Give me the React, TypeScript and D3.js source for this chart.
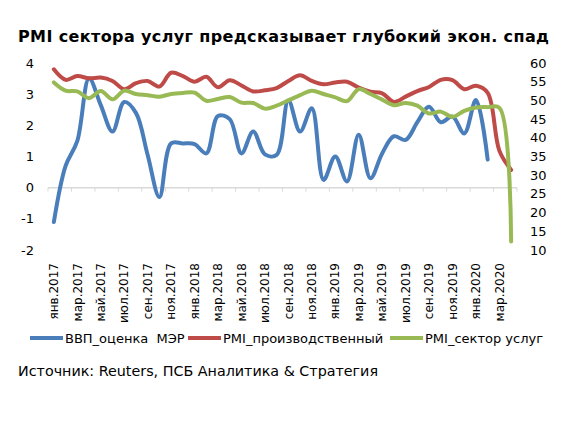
import React, { useEffect, useRef } from 'react';
import * as d3 from 'd3';

// monthly categories Jan 2017 .. Apr 2020
const monthNames = ['янв', 'фев', 'мар', 'апр', 'май', 'июн', 'июл', 'авг', 'сен', 'окт', 'ноя', 'дек'];
const months: string[] = [];
for (let y = 2017; y <= 2020; y++) {
  for (let m = 0; m < 12; m++) {
    if (y === 2020 && m > 3) break;
    months.push(`${monthNames[m]}.${y}`);
  }
}

// ВВП_оценка МЭР (left axis)
const gdp = [
  -1.1, 0.7, 1.5, 3.5, 2.65, 1.8, 2.75, 2.4, 1.05, -0.3,
  1.42, 1.42, 1.4, 1.1, 2.3, 2.2, 1.1, 1.8, 1.07, 1.05,
  2.8, 1.8, 2.55, 0.25, 1.0, 0.2, 1.7, 0.3, 1.1, 1.65,
  1.53, 2.1, 2.6, 2.1, 2.28, 1.74, 2.81, 0.9,
];

// PMI_производственный (right axis)
const pmiMfg = [
  58.3, 55.5, 56.5, 55.9, 56.1, 55.2, 53.0, 54.6, 55.2, 53.7,
  57.4, 56.5, 55.0, 56.3, 53.5, 55.4, 54.0, 52.4, 52.7, 53.3,
  55.2, 56.7, 55.2, 54.3, 54.8, 55.0, 53.4, 52.3, 51.9, 49.6,
  51.0, 52.5, 53.6, 55.5, 55.4, 53.0, 53.9, 52.0, 36.5, 31.4,
];

// PMI_сектор услуг (right axis)
const pmiServ = [
  54.8, 52.6, 52.4, 50.6, 52.5, 50.3, 52.6, 51.7, 51.4, 51.0,
  51.7, 52.0, 52.1, 49.9, 50.4, 50.9, 49.4, 49.3, 47.8, 48.6,
  50.0, 51.4, 52.6, 51.7, 50.8, 49.8, 53.0, 51.7, 50.2, 48.7,
  49.3, 48.6, 46.5, 47.0, 45.6, 47.2, 48.1, 48.2, 48.0, 12.3,
];

const leftTicks = [-2, -1, 0, 1, 2, 3, 4];
const rightTicks = [10, 15, 20, 25, 30, 35, 40, 45, 50, 55, 60];

const series = [
  { name: 'ВВП_оценка  МЭР', color: '#4A7EBB', values: gdp, axis: 'left' },
  { name: 'PMI_производственный', color: '#BE4B48', values: pmiMfg, axis: 'right' },
  { name: 'PMI_сектор услуг', color: '#98B954', values: pmiServ, axis: 'right' },
];

const FONT = 'Verdana, "DejaVu Sans", sans-serif';

const App: React.FC = () => {
  const svgRef = useRef<SVGSVGElement>(null);

  useEffect(() => {
    const svg = d3.select(svgRef.current);
    svg.selectAll('*').remove();

    const x = d3.scaleBand<string>().domain(months).range([48, 517]);
    const yL = d3.scaleLinear().domain([-2, 4]).range([250, 63]);
    const yR = d3.scaleLinear().domain([10, 60]).range([250, 63]);
    const cx = (m: string) => (x(m) || 0) + x.bandwidth() / 2;

    // title
    svg.append('text')
      .attr('x', 18)
      .attr('y', 42)
      .attr('textLength', 531)
      .attr('lengthAdjust', 'spacing')
      .style('font-family', FONT)
      .style('font-size', '16px')
      .style('font-weight', 'bold')
      .attr('fill', '#000')
      .text('PMI сектора услуг предсказывает глубокий экон. спад');

    // zero line with ticks
    svg.append('line')
      .attr('x1', 48).attr('x2', 517)
      .attr('y1', yL(0)).attr('y2', yL(0))
      .attr('stroke', '#D9D9D9').attr('stroke-width', 1.5);
    const tickIdx = d3.range(0, months.length + 1, 2);
    svg.append('g').selectAll('line')
      .data(tickIdx)
      .enter()
      .append('line')
      .attr('x1', i => (i < months.length ? x(months[i]) || 0 : 517))
      .attr('x2', i => (i < months.length ? x(months[i]) || 0 : 517))
      .attr('y1', yL(0))
      .attr('y2', yL(0) + 4)
      .attr('stroke', '#D9D9D9');

    // left axis labels
    svg.append('g').selectAll('text')
      .data(leftTicks)
      .enter()
      .append('text')
      .attr('x', 34)
      .attr('y', d => yL(d))
      .attr('dy', '0.35em')
      .attr('text-anchor', 'end')
      .style('font-family', FONT)
      .style('font-size', '13px')
      .attr('fill', '#000')
      .text(d => String(d));

    // right axis labels
    svg.append('g').selectAll('text')
      .data(rightTicks)
      .enter()
      .append('text')
      .attr('x', 530)
      .attr('y', d => yR(d))
      .attr('dy', '0.35em')
      .attr('text-anchor', 'start')
      .style('font-family', FONT)
      .style('font-size', '13px')
      .attr('fill', '#000')
      .text(d => String(d));

    // x labels, every second month
    const labelMonths = months.filter((_, i) => i % 2 === 0);
    svg.append('g').selectAll('text')
      .data(labelMonths)
      .enter()
      .append('text')
      .attr('transform', d => `translate(${cx(d)},263) rotate(-90)`)
      .attr('dy', '0.35em')
      .attr('text-anchor', 'end')
      .style('font-family', FONT)
      .style('font-size', '12px')
      .attr('fill', '#000')
      .text(d => d);

    // lines
    series.forEach(s => {
      const yScale = s.axis === 'left' ? yL : yR;
      const line = d3.line<number>()
        .x((_, i) => cx(months[i]))
        .y(d => yScale(d))
        .curve(d3.curveCatmullRom.alpha(0.5));
      svg.append('path')
        .datum(s.values)
        .attr('d', line)
        .attr('fill', 'none')
        .attr('stroke', s.color)
        .attr('stroke-width', 4)
        .attr('stroke-linejoin', 'round')
        .attr('stroke-linecap', 'round');
    });

    // legend
    const legendX = [30, 188, 390];
    const legendY = 338;
    series.forEach((s, i) => {
      svg.append('line')
        .attr('x1', legendX[i]).attr('x2', legendX[i] + 33)
        .attr('y1', legendY).attr('y2', legendY)
        .attr('stroke', s.color)
        .attr('stroke-width', 4);
      svg.append('text')
        .attr('x', legendX[i] + 35)
        .attr('y', legendY)
        .attr('dy', '0.35em')
        .attr('xml:space', 'preserve')
        .style('white-space', 'pre')
        .style('font-family', FONT)
        .style('font-size', '13px')
        .attr('fill', '#000')
        .text(s.name);
    });

    // source
    svg.append('text')
      .attr('x', 18)
      .attr('y', 376)
      .style('font-family', FONT)
      .style('font-size', '14.3px')
      .attr('fill', '#000')
      .text('Источник: Reuters, ПСБ Аналитика & Стратегия');
  }, []);

  return (
    <svg
      ref={svgRef}
      width={585}
      height={422}
      style={{ position: 'absolute', left: 0, top: 0, background: '#fff' }}
    />
  );
};

export default App;
